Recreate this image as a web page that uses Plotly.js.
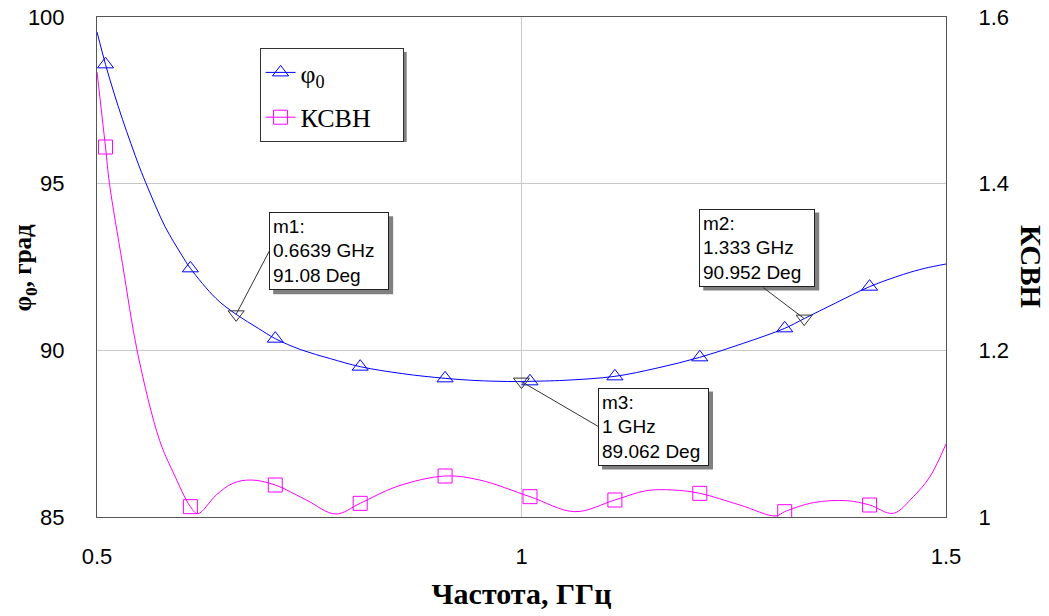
<!DOCTYPE html>
<html>
<head>
<meta charset="utf-8">
<script src="https://cdn.plot.ly/plotly-3.0.1.min.js"></script>
<style>
  html, body { margin: 0; padding: 0; background: #fff; }
  #chart { width: 1049px; height: 616px; }
</style>
</head>
<body>
<div id="chart"></div>
<script>
// Phase φ0 (deg) versus frequency (GHz)
const freqPhi = [0.50, 0.51, 0.52, 0.53, 0.54, 0.55, 0.56, 0.58, 0.60, 0.61, 0.64, 0.6639, 0.69, 0.71,
                 0.74, 0.775, 0.81, 0.86, 0.91, 0.95, 1.0, 1.01, 1.05, 1.11, 1.16, 1.21, 1.26, 1.31,
                 1.333, 1.37, 1.41, 1.45, 1.475, 1.5];
const phi = [99.55, 98.58, 97.72, 96.93, 96.2, 95.5, 94.87, 93.72, 92.85, 92.46, 91.56, 91.08, 90.66, 90.35,
             90.02, 89.75, 89.51, 89.3, 89.16, 89.09, 89.062, 89.07, 89.1, 89.22, 89.47, 89.79, 90.2, 90.66,
             90.952, 91.42, 91.91, 92.28, 92.46, 92.59];

// VSWR (КСВН) versus frequency (GHz)
const freqVswr = [0.50, 0.51, 0.5147, 0.53, 0.548, 0.5737, 0.59, 0.61, 0.6188, 0.6405, 0.66, 0.6817, 0.71,
                  0.7465, 0.781, 0.81, 0.8526, 0.91, 0.9507, 1.01, 1.0628, 1.11, 1.147, 1.1786, 1.21,
                  1.2572, 1.2997, 1.31, 1.3436, 1.383, 1.41, 1.4379, 1.4615, 1.4811, 1.5];
const vswr = [1.534, 1.444, 1.40, 1.304, 1.196, 1.092, 1.053, 1.0124, 1.004, 1.0264, 1.0404, 1.0444, 1.0384,
              1.0204, 1.0036, 1.0164, 1.0364, 1.0492, 1.0444, 1.0244, 1.0064, 1.0204, 1.0316, 1.0324, 1.0284,
              1.0144, 1.0012, 1.0064, 1.0172, 1.0196, 1.0144, 1.0044, 1.0244, 1.0484, 1.0876];

// Frequencies where curve symbols are drawn
const symbolFreq = [0.51, 0.61, 0.71, 0.81, 0.91, 1.01, 1.11, 1.21, 1.31, 1.41];

// Readout markers
const markerNames = ['m1', 'm2', 'm3'];
const markerFreq = [0.6639, 1.333, 1];
const markerPhase = [91.08, 90.952, 89.062];

// Tick values
const xTicks = [0.5, 1, 1.5];
const yTicks = [85, 90, 95, 100];
const y2Ticks = [1, 1.2, 1.4, 1.6];

const BLUE = '#0000ff';
const PINK = '#ff00ff';
const SHADOW = '#808080';
const SERIF = '"Liberation Serif", "Times New Roman", serif';
const SANS = '"Liberation Sans", Arial, sans-serif';

// symbols only (isolated points separated by gaps, so no connecting segments)
function symbolSeries(fx, fy) {
  const xs = [], ys = [];
  symbolFreq.forEach(f => {
    const v = fy[fx.indexOf(f)];
    xs.push(f, f); ys.push(v, null);
  });
  return {xs, ys};
}
const phiSym = symbolSeries(freqPhi, phi);
const vswrSym = symbolSeries(freqVswr, vswr);

const traces = [
  {x: freqPhi, y: phi, mode: 'lines', line: {color: BLUE, width: 1, shape: 'spline', smoothing: 1},
   showlegend: false, hoverinfo: 'skip', legendgroup: 'phi'},
  {x: freqVswr, y: vswr, yaxis: 'y2', mode: 'lines', line: {color: PINK, width: 1, shape: 'spline', smoothing: 1},
   showlegend: false, hoverinfo: 'skip', legendgroup: 'vswr'},
  {x: phiSym.xs, y: phiSym.ys, mode: 'lines+markers', connectgaps: false, name: 'φ<sub>0</sub>',
   legendgroup: 'phi', line: {color: BLUE, width: 1},
   marker: {symbol: 'triangle-up-open', size: 14, color: BLUE, line: {width: 1, color: BLUE}}},
  {x: vswrSym.xs, y: vswrSym.ys, yaxis: 'y2', mode: 'lines+markers', connectgaps: false,
   name: 'КСВН\u00a0\u00a0\u00a0\u00a0',
   legendgroup: 'vswr', line: {color: PINK, width: 1},
   marker: {symbol: 'square-open', size: 14, color: PINK, line: {width: 1, color: PINK}}},
  {x: markerFreq, y: markerPhase, mode: 'markers', showlegend: false, hoverinfo: 'skip',
   marker: {symbol: 'triangle-down-open', size: 14, color: '#333', line: {width: 1, color: '#333'}}}
];

// readout box layout (pixels): centre offset from the marker, outer width, leader tail offset
const boxShift = [[93, 63], [-47, 71], [132, -45]];
const boxOuterW = [120, 116, 111];
const BOX_OUTER_H = 78;
const BOX_PAD = 3;
const leaderTail = [[33, 63], [-41, 31], [77, -45]];

const annotations = [];
const shapes = [];
markerNames.forEach((name, i) => {
  const text = name + ':<br>' + markerFreq[i] + ' GHz<br>' + markerPhase[i] + ' Deg';
  const [sx, sy] = boxShift[i];
  const hw = boxOuterW[i] / 2, hh = BOX_OUTER_H / 2;
  // drop shadow
  shapes.push({type: 'rect', xref: 'x', yref: 'y', xsizemode: 'pixel', ysizemode: 'pixel',
    xanchor: markerFreq[i], yanchor: markerPhase[i],
    x0: sx - hw + 4, x1: sx + hw + 4, y0: sy - hh - 4, y1: sy + hh - 4,
    fillcolor: SHADOW, line: {width: 0}, layer: 'above'});
  // leader line
  shapes.push({type: 'line', xref: 'x', yref: 'y', xsizemode: 'pixel', ysizemode: 'pixel',
    xanchor: markerFreq[i], yanchor: markerPhase[i],
    x0: 0, y0: 0, x1: leaderTail[i][0], y1: leaderTail[i][1],
    line: {color: '#333', width: 1}, layer: 'above'});
  // box
  annotations.push({x: markerFreq[i], y: markerPhase[i], xref: 'x', yref: 'y', showarrow: false,
    text: text, xshift: sx, yshift: sy, align: 'left', valign: 'middle',
    width: boxOuterW[i] - 2 * BOX_PAD - 2, height: BOX_OUTER_H - 2 * BOX_PAD - 2,
    borderpad: BOX_PAD, borderwidth: 1, bordercolor: '#222', bgcolor: '#fff',
    font: {family: SANS, size: 19, color: '#000'}});
});

// legend drop shadow
shapes.push({type: 'rect', xref: 'paper', yref: 'paper', x0: 0.1962, x1: 0.3648, y0: 0.75, y1: 0.93,
  fillcolor: SHADOW, line: {width: 0}, layer: 'above'});

// axis titles
annotations.push({text: 'φ<sub>0</sub>, град', xref: 'paper', yref: 'paper', x: -0.0854, y: 0.5,
  xanchor: 'center', yanchor: 'middle', textangle: -90, showarrow: false,
  font: {family: SERIF, size: 25, color: '#000', weight: 'bold'}});
annotations.push({text: 'КСВН', xref: 'paper', yref: 'paper', x: 1.1002, y: 0.5,
  xanchor: 'center', yanchor: 'middle', textangle: 90, showarrow: false,
  font: {family: SERIF, size: 29, color: '#000', weight: 'bold'}});

const layout = {
  width: 1049, height: 616,
  margin: {l: 97, r: 103, t: 17, b: 99},
  paper_bgcolor: '#fff', plot_bgcolor: '#fff',
  showlegend: true,
  legend: {x: 0.1915, y: 0.938, xanchor: 'left', yanchor: 'top', bgcolor: '#fff',
           bordercolor: '#333', borderwidth: 1, tracegroupgap: 8, traceorder: 'grouped',
           font: {family: SERIF, size: 26, color: '#000'}},
  xaxis: {range: [0.5, 1.5], tickvals: xTicks, showgrid: true, gridcolor: '#c8c8c8', gridwidth: 1,
          zeroline: false, showline: true, linecolor: '#555', linewidth: 1, mirror: true,
          ticks: '', ticklabelstandoff: 20, tickfont: {family: SANS, size: 22, color: '#000'},
          title: {text: 'Частота, ГГц', standoff: 14, font: {family: SERIF, size: 30, color: '#000', weight: 'bold'}}},
  yaxis: {range: [85, 100], tickvals: yTicks, showgrid: true, gridcolor: '#c8c8c8', gridwidth: 1,
          zeroline: false, showline: true, linecolor: '#555', linewidth: 1, mirror: true,
          ticks: '', ticklabelstandoff: 27, tickfont: {family: SANS, size: 22, color: '#000'}},
  yaxis2: {range: [1, 1.6], tickvals: y2Ticks, overlaying: 'y', side: 'right', showgrid: false,
           zeroline: false, showline: true, linecolor: '#555', linewidth: 1,
           ticks: '', ticklabelstandoff: 27, tickfont: {family: SANS, size: 22, color: '#000'}},
  shapes: shapes,
  annotations: annotations
};

Plotly.newPlot('chart', traces, layout, {staticPlot: true});
</script>
</body>
</html>
